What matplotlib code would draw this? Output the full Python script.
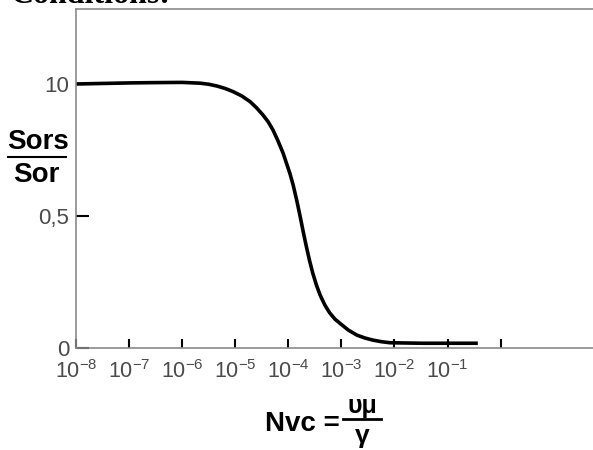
import matplotlib
matplotlib.use("Agg")
import matplotlib.pyplot as plt
from matplotlib.lines import Line2D
import numpy as np

plt.rcParams["font.family"] = ["Liberation Sans", "DejaVu Sans"]
plt.rcParams["mathtext.default"] = "regular"

# curve: log10(Nvc) and Sors/Sor
log_nvc = [-8.0, -7.5, -7.0, -6.6, -6.0, -5.66, -5.5, -5.34, -5.19, -5.04,
           -4.88, -4.72, -4.60, -4.48, -4.38, -4.29, -4.20, -4.10, -3.97,
           -3.91, -3.84, -3.78, -3.72, -3.66, -3.60, -3.54, -3.47, -3.40,
           -3.31, -3.22, -3.12, -3.03, -2.87, -2.71, -2.56, -2.41, -2.25,
           -2.09, -1.80, -1.47, -0.96, -0.43]
ratio = [1.000, 1.002, 1.004, 1.005, 1.006, 1.003, 0.999, 0.992, 0.983, 0.971,
         0.955, 0.933, 0.910, 0.883, 0.857, 0.826, 0.787, 0.739, 0.661,
         0.618, 0.558, 0.501, 0.441, 0.384, 0.331, 0.284, 0.238, 0.200,
         0.162, 0.133, 0.109, 0.094, 0.068, 0.049, 0.038, 0.030, 0.024,
         0.020, 0.019, 0.018, 0.018, 0.018]

x_ticks = [1e-8, 1e-7, 1e-6, 1e-5, 1e-4, 1e-3, 1e-2, 1e-1, 1e0]
x_labels = ["$10^{-8}$", "$10^{-7}$", "$10^{-6}$", "$10^{-5}$", "$10^{-4}$",
            "$10^{-3}$", "$10^{-2}$", "$10^{-1}$", ""]
y_ticks = [0, 0.5, 1.0]
y_labels = ["0", "0,5", "10"]

fig = plt.figure(figsize=(5.93, 4.5), dpi=100)
ax = fig.add_axes([76 / 593, 102 / 450, 517 / 593, 339 / 450])

nvc = np.power(10.0, log_nvc)
ax.plot(nvc, ratio, color="black", lw=2.6, solid_capstyle="butt",
        solid_joinstyle="round")

ax.set_xscale("log")
ax.set_xlim(1e-8, 10 ** 1.74)
ax.set_ylim(0, 1.284)

ax.set_xticks(x_ticks)
ax.set_xticklabels(x_labels)
ax.minorticks_off()
ax.set_yticks(y_ticks)
ax.set_yticklabels(y_labels)

ax.tick_params(axis="x", direction="in", length=6.5, width=1.5, color="black",
               pad=9, labelsize=15.5, labelcolor="#4a4a4a")
ax.tick_params(axis="y", direction="in", length=9.5, width=1.5, color="black",
               pad=5, labelsize=16, labelcolor="#4a4a4a")

for side in ["left", "top", "bottom"]:
    ax.spines[side].set_color("#8a8a8a")
    ax.spines[side].set_linewidth(1.2)
ax.spines["right"].set_visible(False)

# y label as a fraction
fig.text(38 / 593, 1 - 142 / 450, "Sors", ha="center", va="center",
         fontsize=20, fontweight="bold", color="black")
fig.add_artist(Line2D([8 / 593, 66 / 593], [1 - 157 / 450, 1 - 157 / 450],
                      color="black", lw=1.5, transform=fig.transFigure))
fig.text(36 / 593, 1 - 175 / 450, "Sor", ha="center", va="center",
         fontsize=20, fontweight="bold", color="black")

# x label: Nvc = υμ / γ
fig.text(302 / 593, 1 - 424 / 450, "Nvc =", ha="center", va="center",
         fontsize=20, fontweight="bold", color="black")
fig.text(362 / 593, 1 - 406 / 450, "υμ", ha="center", va="center",
         fontsize=18, fontweight="bold", color="black")
fig.add_artist(Line2D([343 / 593, 381 / 593], [1 - 419 / 450, 1 - 419 / 450],
                      color="black", lw=2.0, transform=fig.transFigure))
fig.text(362 / 593, 1 - 436 / 450, "γ", ha="center", va="center",
         fontsize=19, fontweight="bold", color="black")

# heading cut off at the top of the picture
fig.text(10 / 593, 1 - 3 / 450, "Conditions:", ha="left", va="baseline",
         fontsize=23, fontweight="bold", color="black",
         family=["Liberation Serif", "DejaVu Serif"])

fig.savefig("out.png", dpi=100)
